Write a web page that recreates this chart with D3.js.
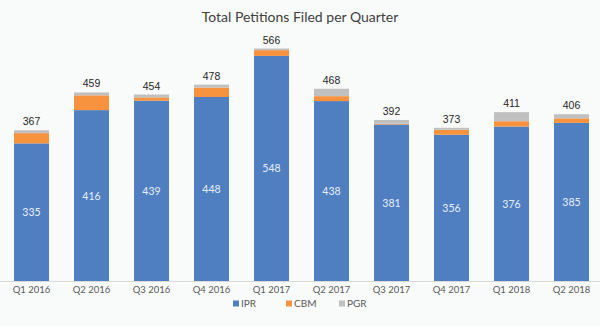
<!DOCTYPE html>
<html><head><meta charset="utf-8">
<script src="https://cdn.jsdelivr.net/npm/d3@7"></script>
<style>body{margin:0;background:#f9fbfa;}svg{display:block;}</style>
</head><body>
<script>
const categories = ["Q1 2016","Q2 2016","Q3 2016","Q4 2016","Q1 2017","Q2 2017","Q3 2017","Q4 2017","Q1 2018","Q2 2018"];
const ipr = [335,416,439,448,548,438,381,356,376,385];
const cbm = [25,36,8,23,14,12,2,12,13,11];
const pgr = [7,7,7,7,4,18,9,5,22,10];
const totals = [367,459,454,478,566,468,392,373,411,406];
const seriesNames = ["IPR","CBM","PGR"];
const colors = ["#4f7fc1","#f7923f","#c0c0c0"];

const W=600,H=326;
const svg=d3.select("body").append("svg").attr("width",W).attr("height",H);
svg.append("rect").attr("width",W).attr("height",H).attr("fill","#f9fbfa");

const x=d3.scaleBand().domain(categories).range([1.5,601.5]).paddingInner(25/60).paddingOuter(12.5/60);
const y=d3.scaleLinear().domain([0,566]).range([281,48.5]);

const table=categories.map((c,i)=>({cat:c,IPR:ipr[i],CBM:cbm[i],PGR:pgr[i]}));
const stacked=d3.stack().keys(seriesNames)(table);

svg.append("g").selectAll("g").data(stacked).join("g").attr("fill",(d,i)=>colors[i])
  .selectAll("rect").data(d=>d).join("rect")
  .attr("x",d=>x(d.data.cat)).attr("width",x.bandwidth())
  .attr("y",d=>y(d[1])).attr("height",d=>y(d[0])-y(d[1]));

// axis
const ax=svg.append("g").attr("transform","translate(0,281)").call(d3.axisBottom(x).tickSize(0).tickPadding(5));
ax.select(".domain").attr("stroke","#d9d9d9").attr("d","M0,0.5H600");
ax.selectAll("text").attr("font-family","Lato, 'Noto Sans', sans-serif").attr("font-size",9.5).attr("fill","#595959");

// inner labels
svg.append("g").selectAll("text").data(categories).join("text")
  .attr("x",d=>x(d)+x.bandwidth()/2).attr("y",(d,i)=>y(ipr[i]/2)+4)
  .attr("text-anchor","middle").attr("font-family","Lato, 'Noto Sans', sans-serif").attr("font-size",10.5)
  .attr("fill","#e8eef8").text((d,i)=>ipr[i]);

// totals
svg.append("g").selectAll("text").data(categories).join("text")
  .attr("x",d=>x(d)+x.bandwidth()/2).attr("y",(d,i)=>y(totals[i])-5)
  .attr("text-anchor","middle").attr("font-family","'Liberation Sans', Arial, sans-serif").attr("font-size",10.5)
  .attr("fill","#262626").text((d,i)=>totals[i]);

// title
svg.append("text").attr("x",300).attr("y",22).attr("text-anchor","middle")
  .attr("font-family","Lato, 'Noto Sans', sans-serif").attr("font-size",14).attr("fill","#404040")
  .text("Total Petitions Filed per Quarter");

// legend
const legX=[233,286,339];
const lg=svg.append("g").selectAll("g").data(seriesNames).join("g")
  .attr("transform",(d,i)=>`translate(${legX[i]},307)`);
lg.append("rect").attr("x",0).attr("y",-6.5).attr("width",6).attr("height",6).attr("fill",(d,i)=>colors[i]);
lg.append("text").attr("x",8).attr("y",0).attr("font-family","Lato, 'Noto Sans', sans-serif")
  .attr("font-size",10).attr("fill","#595959").text(d=>d);
</script>
</body></html>
